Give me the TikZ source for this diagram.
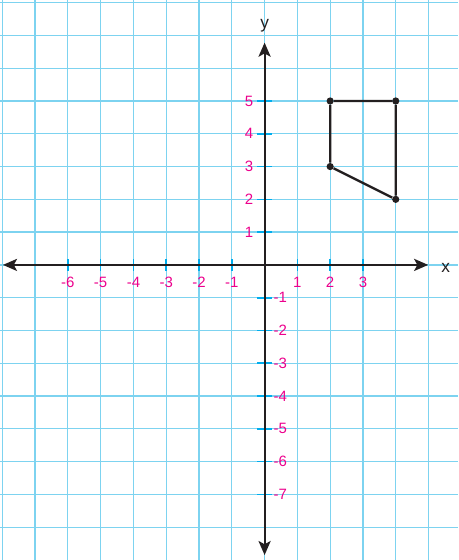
\documentclass[tikz,border=0pt]{standalone}
\usepackage{fontspec}
\setmainfont{Liberation Sans}
\usetikzlibrary{arrows.meta,positioning}
\definecolor{gridblue}{RGB}{125,211,240}
\definecolor{tickblue}{RGB}{0,174,239}
\definecolor{labelpink}{RGB}{236,0,140}
\definecolor{axisgray}{RGB}{35,31,32}

\begin{document}
\begin{tikzpicture}[
    gridline/.style={draw=gridblue, line width=1.1pt},
    axisline/.style={draw=axisgray, line width=1.7pt, {Stealth[length=4.3mm, width=3.7mm, inset=1mm]}-{Stealth[length=4.3mm, width=3.7mm, inset=1mm]}},
    axistick/.style={draw=tickblue, line width=1.4pt},
    ticklabel/.style={text=labelpink, font=\fontsize{13}{15}\selectfont, inner sep=0pt},
    axislabel/.style={text=axisgray, font=\fontsize{15}{17}\selectfont},
    sideline/.style={draw=axisgray, line width=2pt},
    vertex/.style={circle, fill=axisgray, inner sep=0pt, minimum size=2.2mm}
]
    % Paper
    \useasboundingbox (-8.07,-9.0) rectangle (5.91,8.08);
    \draw[gridline] (-8.07,-8.99) grid (5.91,8.08);

    % Ticks
    \foreach \x in {-6,...,-1,1,2,3} {
        \draw[axistick] (\x,-0.18) -- (\x,0.18);
        \node[ticklabel] at (\x,-0.54) {\x};
    }
    \foreach \y in {1,...,5} {
        \draw[axistick] (-0.23,\y) -- (0.23,\y);
        \node[ticklabel, anchor=east] at (-0.34,\y) {\y};
    }
    \foreach \y in {-7,...,-1} {
        \draw[axistick] (-0.23,\y) -- (0.23,\y);
        \node[ticklabel, anchor=west] at (0.27,\y) {\y};
    }

    % Axes
    \coordinate (xleft) at (-7.98,0);
    \coordinate (xright) at (4.99,0);
    \coordinate (ybottom) at (0,-8.85);
    \coordinate (ytop) at (0,6.78);
    \draw[axisline] (xleft) -- (xright);
    \draw[axisline] (ybottom) -- (ytop);
    \node[axislabel] (xlabel) at (5.52,-0.08) {x};
    \node[axislabel] (ylabel) at (0,7.3) {y};

    % Figure
    \node[vertex] (a) at (2,5) {};
    \node[vertex] (b) at (4,5) {};
    \node[vertex] (c) at (4,2) {};
    \node[vertex] (d) at (2,3) {};
    \draw[sideline] (a) -- (b) -- (c) -- (d) -- (a);
\end{tikzpicture}
\end{document}
